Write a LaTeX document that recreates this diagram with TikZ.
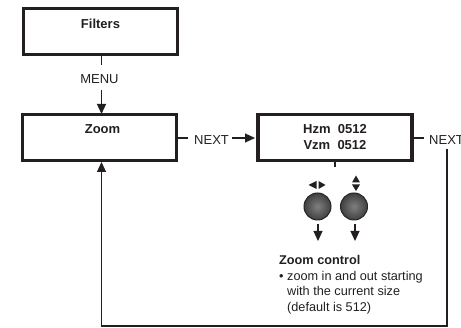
\documentclass[tikz,border=0pt]{standalone}
\usepackage{fontspec}
\setmainfont{Liberation Sans}
\usetikzlibrary{arrows.meta,shadings}
\definecolor{ink}{HTML}{231F20}
\tikzset{
  x=1pt,y=-1pt,
  every node/.style={text=ink,font=\fontsize{13}{15}\selectfont},
  menubox/.style={draw=ink,line width=3.6pt,minimum width=154pt,minimum height=46pt,inner sep=0pt,fill=white},
  boxtitle/.style={font=\fontsize{13}{16}\selectfont\bfseries,align=center},
  link/.style={draw=ink,line width=1.2pt},
  linkarrow/.style={link,-{Triangle[width=9pt,length=10pt]}},
  knob/.style={circle,minimum size=27pt,inner sep=0pt,draw=black!85,line width=1pt,shade,inner color=black!50,outer color=black!75},
  tip/.style={fill=ink,draw=none},
}
\begin{document}
\begin{tikzpicture}
\useasboundingbox (0,0) rectangle (461,328);
\clip (0,0) rectangle (461,328);
\node[menubox] (filters) at (100.5,31.5) {};
\node[boxtitle] (filterst) at (100.5,23.5) {Filters};
\node[menubox] (zoom) at (99.5,137.5) {};
\node[boxtitle] (zoomt) at (102.5,129.5) {Zoom};
\node[menubox] (hzm) at (335,137.5) {};
\node[boxtitle] (hzmt) at (335,137.5) {Hzm\ \ 0512\\Vzm\ \ 0512};
\node (menu) at (99.5,79.5) {MENU};
\node[anchor=west,inner sep=0pt] (next1) at (194,140) {NEXT};
\node[anchor=west,inner sep=0pt] (next2) at (429,140) {NEXT};

\coordinate (s1) at (101.5,65);
\coordinate (a1) at (101.5,90);
\coordinate (z1) at (101.5,114);
\coordinate (f1) at (101.5,54.5);
\draw[link] (f1) -- (s1);
\draw[linkarrow] (a1) -- (z1);

\coordinate (n1a) at (177,138);
\coordinate (n1b) at (188,138);
\draw[link] (n1a) -- (n1b);
\coordinate (a2) at (232,138);
\coordinate (h1) at (255,138);
\draw[linkarrow] (a2) -- (h1);
\coordinate (n2a) at (413,138);
\coordinate (n2b) at (424,138);
\draw[link] (n2a) -- (n2b);

\coordinate (r1) at (447,149);
\coordinate (r2) at (447,326);
\coordinate (r3) at (101.5,326);
\coordinate (z2) at (101.5,162);
\draw[linkarrow] (r1) -- (r2) -- (r3) -- (z2);

\coordinate (h2) at (335,161);
\coordinate (h3) at (335,167);
\draw[link] (h2) -- (h3);

\node[knob] (k1) at (317.5,206.5) {};
\node[knob] (k2) at (354,206.5) {};
\coordinate (k1a) at (318,224);
\coordinate (k1b) at (318,241);
\coordinate (k2a) at (355,224);
\coordinate (k2b) at (355,241);
\draw[linkarrow] (k1a) -- (k1b);
\draw[linkarrow] (k2a) -- (k2b);

\fill[tip] (316.5,181) -- (316.5,189) -- (308.5,185) -- cycle;
\fill[tip] (318.5,181) -- (318.5,189) -- (325.5,185) -- cycle;
\fill[tip] (352,182.5) -- (360,182.5) -- (356,175.5) -- cycle;
\fill[tip] (352,184.5) -- (360,184.5) -- (356,191) -- cycle;

\node[anchor=north west,inner sep=0pt,align=left,font=\fontsize{12.7}{15.4}\selectfont] (txt) at (279,255.5)
  {\textbf{Zoom control}\\[0pt]\textbullet\ zoom in and out starting\\\hphantom{\textbullet\ }with the current size\\\hphantom{\textbullet\ }(default is 512)};
\end{tikzpicture}
\end{document}
